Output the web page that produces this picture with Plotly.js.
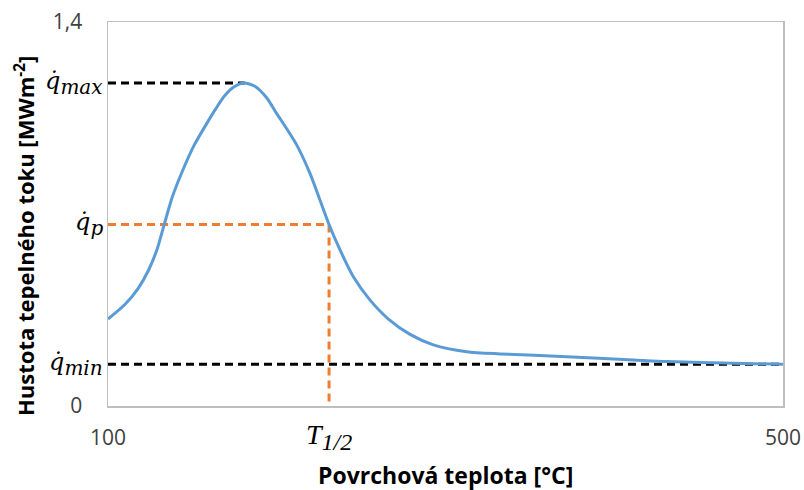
<!DOCTYPE html>
<html>
<head>
<meta charset="utf-8">
<script src="https://cdn.plot.ly/plotly-3.0.1.min.js"></script>
<style>html,body{margin:0;padding:0;background:#fff}#chart{width:804px;height:490px}</style>
</head>
<body>
<div id="chart"></div>
<script>
// Curve data (surface temperature [°C] vs heat flux density [MW m^-2])
const temperature = [100, 110, 118, 124, 129, 133, 138, 144, 151, 159, 164, 169, 174.5, 180.5, 187, 194, 200.0, 206, 211.8, 219.7, 225.6, 231.1, 237.5, 245.4, 255.3, 266, 279.0, 292.8, 312.6, 332.3, 371.8, 411.3, 431.1, 470.6, 500];
const heatFlux    = [0.317, 0.370, 0.430, 0.495, 0.570, 0.655, 0.760, 0.855, 0.950, 1.035, 1.085, 1.130, 1.163, 1.178, 1.166, 1.124, 1.066, 1.010, 0.952, 0.848, 0.751, 0.660, 0.569, 0.471, 0.386, 0.318, 0.261, 0.223, 0.198, 0.190, 0.180, 0.168, 0.162, 0.156, 0.152];

// Characteristic values
const qMax = 1.178;
const tMax = 181;
const qP = 0.662;
const tHalf = 231;
const qMin = 0.152;
const xRange = [100, 500];
const yRange = [0, 1.4];
const xTickVals = [100, 500];
const xTickText = ['100', '500'];
const yTickVals = [0, 1.4];
const yTickText = ['0', '1,4'];
const xTitle = '<b>Povrchová teplota [°C]</b>';
const yTitle = '<b>Hustota tepelného toku [MWm<sup>-2</sup>]</b>';

const blue = '#5B9BD5', orange = '#ED7D31', black = '#000000';

const traces = [
  {x: [xRange[0], tMax], y: [qMax, qMax], mode: 'lines', line: {color: black, width: 3, dash: '8px,5px'}, hoverinfo: 'skip'},
  {x: [xRange[0], xRange[1]], y: [qMin, qMin], mode: 'lines', line: {color: black, width: 3, dash: '8px,5px'}, hoverinfo: 'skip'},
  {x: [xRange[0], tHalf], y: [qP, qP], mode: 'lines', line: {color: orange, width: 3, dash: '8px,5px'}, hoverinfo: 'skip'},
  {x: [tHalf, tHalf], y: [qP, yRange[0]], mode: 'lines', line: {color: orange, width: 3, dash: '8px,5px'}, hoverinfo: 'skip'},
  {x: temperature, y: heatFlux, mode: 'lines', line: {color: blue, width: 3, shape: 'spline', smoothing: 0.7}, hoverinfo: 'skip'}
];

const qFont = {family: 'DejaVu Serif, serif', size: 24, color: '#000'};
const tFont = {family: 'Liberation Serif, DejaVu Serif, serif', size: 28, color: '#000'};
function sub(t, px) { return '<sub><span style="font-size:' + px + 'px">' + t + '</span></sub>'; }
function qLabel(val, s) {
  return {xref: 'paper', yref: 'y', x: 0, y: val, xanchor: 'right', yanchor: 'middle', xshift: -3,
    text: '<i>q\u0307' + sub(s, 20) + '</i>', showarrow: false, font: qFont};
}

const layout = {
  width: 804, height: 490,
  margin: {l: 108, r: 21, t: 22, b: 84},
  paper_bgcolor: '#fff', plot_bgcolor: '#fff',
  showlegend: false,
  font: {family: 'Open Sans, sans-serif', color: '#595959', size: 18},
  xaxis: {
    range: xRange, showgrid: false, zeroline: false,
    showline: true, mirror: true, linecolor: '#BFBFBF', linewidth: 1.5,
    tickvals: xTickVals, ticktext: xTickText, ticks: '',
    ticklabelstandoff: 12,
    tickfont: {family: 'Open Sans, sans-serif', size: 21, color: '#404040'}
  },
  yaxis: {
    range: yRange, showgrid: false, zeroline: false,
    showline: true, mirror: true, linecolor: '#BFBFBF', linewidth: 1.5,
    tickvals: yTickVals, ticktext: yTickText, ticks: '',
    ticklabelstandoff: 20,
    tickfont: {family: 'Open Sans, sans-serif', size: 21, color: '#404040'}
  },
  annotations: [
    qLabel(qMax, 'max'),
    qLabel(qP, 'p'),
    qLabel(qMin, 'min'),
    {xref: 'x', yref: 'paper', x: tHalf, y: 0, xanchor: 'center', yanchor: 'top', yshift: -11,
     text: '<i>T' + sub('1/2', 24) + '</i>', showarrow: false, font: tFont},
    {xref: 'paper', yref: 'paper', x: 0, y: 0, xanchor: 'center', yanchor: 'middle', xshift: 337, yshift: -69,
     text: xTitle, showarrow: false, font: {family: 'Open Sans, sans-serif', size: 23, color: '#000'}},
    {xref: 'paper', yref: 'paper', x: 0, y: 0.5, xanchor: 'center', yanchor: 'middle', xshift: -84, yshift: -22,
     textangle: -90, text: yTitle, showarrow: false, font: {family: 'Open Sans, sans-serif', size: 22, color: '#000'}}
  ]
};

Plotly.newPlot('chart', traces, layout, {staticPlot: true, displayModeBar: false});
</script>
</body>
</html>
